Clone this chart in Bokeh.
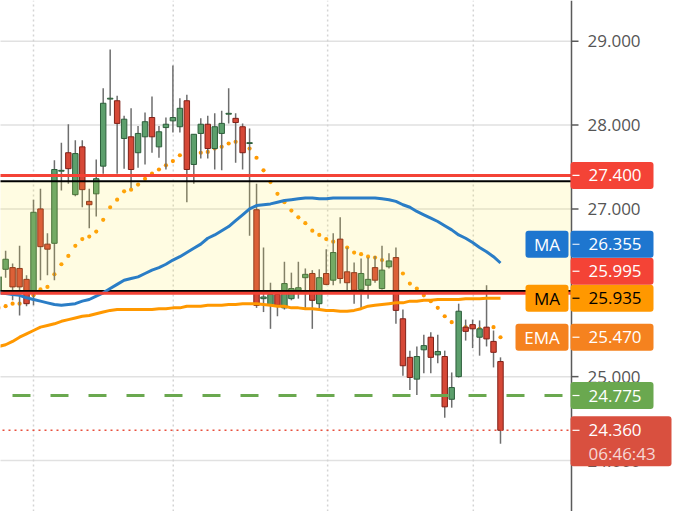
from bokeh.plotting import figure
from bokeh.models import Range1d, ColumnDataSource
from bokeh.core.properties import value
from bokeh.embed import file_html
from bokeh.resources import INLINE

# ---------------- data ----------------
opens = [26.02, 26.28, 26.30, 26.29, 26.16, 26.02, 27.00, 26.58, 26.59, 27.45,
         27.67, 27.17, 27.74, 27.09, 27.18, 27.51, 28.31, 28.29, 27.84, 27.86,
         27.67, 27.86, 28.09, 27.74, 27.97, 28.05, 27.98, 28.29, 27.53, 27.90,
         28.01, 27.72, 27.90, 28.13, 28.08, 27.98, 27.78, 26.99, 25.93, 25.86,
         25.98, 25.82, 25.93, 26.03, 26.18, 26.23, 25.87, 26.23, 26.15, 26.64,
         26.25, 26.24, 26.04, 26.09, 26.30, 26.05, 26.31, 26.42, 25.69, 25.23,
         24.97, 25.32, 25.47, 25.26, 25.24, 24.73, 25.00, 25.59, 25.62, 25.47,
         25.59, 25.42, 25.18]
highs = [26.25, 26.50, 26.35, 26.56, 26.21, 27.11, 27.24, 26.71, 27.58, 27.79,
         28.01, 27.82, 27.82, 27.24, 27.59, 28.44, 28.90, 28.35, 28.11, 28.20,
         27.99, 28.15, 28.34, 27.99, 28.09, 28.71, 28.32, 28.36, 27.89, 28.08,
         28.11, 28.14, 28.17, 28.44, 28.14, 28.02, 27.96, 27.30, 26.54, 26.12,
         26.00, 26.37, 26.24, 26.37, 26.29, 26.27, 26.28, 26.52, 26.71, 26.90,
         26.54, 26.36, 26.41, 26.42, 26.44, 26.56, 26.47, 26.54, 25.80, 25.31,
         25.36, 25.50, 25.53, 25.50, 25.31, 25.05, 25.87, 25.68, 25.68, 25.67,
         26.09, 25.55, 25.23]
lows = [25.95, 26.18, 25.91, 25.73, 25.84, 25.85, 26.15, 26.21, 26.15, 27.22,
        27.30, 27.15, 27.02, 26.77, 26.91, 27.42, 28.11, 27.42, 27.48, 27.25,
        27.49, 27.53, 27.67, 27.61, 27.47, 27.91, 27.91, 27.08, 27.30, 27.60,
        27.60, 27.47, 27.46, 28.02, 27.55, 27.47, 26.68, 25.82, 25.77, 25.57,
        25.72, 25.80, 25.91, 25.93, 25.82, 25.57, 25.79, 26.09, 26.09, 26.11,
        26.03, 25.87, 25.81, 25.93, 26.12, 26.04, 26.29, 25.63, 25.01, 24.84,
        24.78, 25.04, 25.04, 25.16, 24.51, 24.63, 24.99, 25.43, 25.34, 25.25,
        25.36, 25.11, 24.20]
closes = [26.19, 26.40, 26.07, 26.07, 25.87, 26.96, 26.55, 26.52, 27.47, 27.46,
          27.48, 27.66, 27.23, 27.05, 27.36, 28.26, 28.32, 28.02, 28.07, 27.47,
          27.90, 28.04, 27.86, 27.92, 28.01, 28.09, 28.20, 27.47, 27.89, 28.01,
          27.72, 27.98, 28.02, 28.14, 28.03, 27.67, 27.79, 25.85, 25.95, 25.98,
          25.85, 26.11, 26.05, 26.06, 26.22, 25.91, 26.18, 26.10, 26.48, 26.17,
          26.12, 26.03, 26.23, 26.16, 26.15, 26.27, 26.38, 25.79, 25.13, 24.99,
          25.24, 25.37, 25.23, 25.30, 24.64, 24.87, 25.78, 25.54, 25.57, 25.57,
          25.45, 25.29, 24.36]
ma_short = [26.00, 25.99, 25.98, 25.97, 25.94, 25.92, 25.90, 25.88, 25.86, 25.85,
            25.86, 25.87, 25.90, 25.92, 25.96, 26.00, 26.05, 26.10, 26.15, 26.17,
            26.19, 26.23, 26.27, 26.30, 26.34, 26.39, 26.43, 26.48, 26.53, 26.58,
            26.65, 26.69, 26.74, 26.79, 26.86, 26.93, 27.00, 27.04, 27.05, 27.06,
            27.08, 27.10, 27.11, 27.12, 27.13, 27.13, 27.12, 27.12, 27.13, 27.13,
            27.13, 27.13, 27.13, 27.13, 27.13, 27.12, 27.11, 27.09, 27.05, 27.02,
            26.97, 26.93, 26.89, 26.85, 26.80, 26.75, 26.69, 26.65, 26.60, 26.54,
            26.49, 26.43, 26.355]
ma_long = [25.36, 25.38, 25.42, 25.47, 25.51, 25.55, 25.59, 25.61, 25.63, 25.66,
           25.68, 25.70, 25.72, 25.73, 25.75, 25.77, 25.79, 25.80, 25.80, 25.80,
           25.80, 25.80, 25.80, 25.81, 25.81, 25.82, 25.82, 25.84, 25.84, 25.84,
           25.85, 25.85, 25.85, 25.86, 25.86, 25.87, 25.87, 25.87, 25.86, 25.85,
           25.84, 25.84, 25.82, 25.82, 25.81, 25.81, 25.80, 25.79, 25.79, 25.78,
           25.78, 25.79, 25.81, 25.84, 25.85, 25.86, 25.87, 25.88, 25.88, 25.90,
           25.90, 25.91, 25.91, 25.92, 25.92, 25.92, 25.92, 25.93, 25.93, 25.93,
           25.935, 25.935, 25.935]
ema_line = [25.82, 25.84, 25.87, 25.87, 25.91, 25.97, 26.04, 26.07, 26.22, 26.34,
            26.44, 26.56, 26.64, 26.67, 26.73, 26.87, 27.02, 27.11, 27.21, 27.23,
            27.29, 27.36, 27.42, 27.47, 27.52, 27.57, 27.64, 27.65, 27.66, 27.67,
            27.68, 27.72, 27.74, 27.78, 27.80, 27.79, 27.72, 27.61, 27.46, 27.32,
            27.18, 27.08, 26.98, 26.90, 26.83, 26.74, 26.69, 26.64, 26.61, 26.58,
            26.54, 26.48, 26.46, 26.43, 26.42, 26.39, 26.35, 26.30, 26.23, 26.11,
            26.05, 25.97, 25.90, 25.82, 25.72, 25.65, 25.61, 25.59, 25.59, 25.57,
            25.57, 25.59, 25.47]

price_ticks = [24, 25, 26, 27, 28, 29]
session_marks = [5, 25.05, 47.2, 68.1]
zone_top = 27.33
zone_bottom = 26.02
resistance_levels = [27.40, 25.995]
support_level = 24.775
last_price = 24.36
countdown = "06:46:43"

bars = list(range(len(closes)))

# ---------------- layout ----------------
W, H = 676, 511
BAR_PX = 6.97
T0 = 0.265
T1 = T0 + W / BAR_PX
PX_Y = 83.86
Y_TOP = 29 + 40.7 / PX_Y
Y_BOT = Y_TOP - H / PX_Y
AXIS_PX = 571


def xat(px):
    return T0 + px / BAR_PX


def ypx(v):
    return (Y_TOP - v) * PX_Y


def yval(px):
    return Y_TOP - px / PX_Y


FONT = value("Open Sans")
FS = "17px"

p = figure(width=W, height=H, x_range=Range1d(T0, T1), y_range=Range1d(Y_BOT, Y_TOP),
           output_backend="svg", toolbar_location=None, min_border=0)
p.axis.visible = False
p.xgrid.visible = False
p.ygrid.visible = False
p.outline_line_color = None
p.background_fill_color = "white"
p.border_fill_color = "white"

x_axis = xat(AXIS_PX)
x_left = xat(-10)
nt = len(price_ticks)
ns = len(session_marks)

# grid
p.segment(x0=[x_left] * nt, y0=price_ticks, x1=[x_axis] * nt, y1=price_ticks,
          line_color="#e1e1e1", line_width=1.5)
p.segment(x0=session_marks, y0=[Y_BOT] * ns, x1=session_marks, y1=[Y_TOP] * ns,
          line_color="#d4d4d4", line_width=1.5, line_dash="2 3")

# EMA dots (under candles)
p.scatter(bars, ema_line, size=4.2, color="#ff9800", line_color=None)

# candles
inc = [c >= o for o, c in zip(opens, closes)]
src = ColumnDataSource(dict(
    x=bars,
    top=[max(o, c) for o, c in zip(opens, closes)],
    bottom=[min(o, c) for o, c in zip(opens, closes)],
    high=highs, low=lows,
    fill=["#5c9f6c" if u else "#d64837" for u in inc],
    edge=["#2d5e3b" if u else "#7f2118" for u in inc],
))
p.segment(x0="x", y0="low", x1="x", y1="high", source=src, line_color="#6e6e6e", line_width=1.5)
p.vbar(x="x", top="top", bottom="bottom", width=0.78, source=src,
       fill_color="fill", line_color="edge", line_width=1)

# zone rectangle over candles
p.quad(left=[x_left], right=[x_axis], top=[zone_top], bottom=[zone_bottom],
       fill_color="#ffeb3b", fill_alpha=0.15, line_color=None)
p.segment(x0=[x_left, x_left], y0=[zone_top, zone_bottom], x1=[x_axis, x_axis],
          y1=[zone_top, zone_bottom], line_color="black", line_width=2)

# moving averages
p.line(bars, ma_long, line_color="#ff9800", line_width=3)
p.line(bars, ma_short, line_color="#2a7dc6", line_width=3)

# levels
p.segment(x0=[x_left] * 2, y0=resistance_levels, x1=[x_axis] * 2, y1=resistance_levels,
          line_color="#f44336", line_width=3)
p.segment(x0=[x_left], y0=[support_level], x1=[x_axis], y1=[support_level],
          line_color="#6aa84f", line_width=3, line_dash="18 20", line_dash_offset=16)
p.segment(x0=[x_left], y0=[last_price], x1=[x_axis], y1=[last_price],
          line_color="#e8503e", line_width=1.5, line_dash="2 4")

# price axis
p.segment(x0=[x_axis], y0=[Y_BOT], x1=[x_axis], y1=[Y_TOP], line_color="#5a5a5a", line_width=1.5)
p.segment(x0=[x_axis] * nt, y0=price_ticks, x1=[xat(AXIS_PX + 7)] * nt, y1=price_ticks,
          line_color="#5a5a5a", line_width=1.5)
p.text(x=[xat(AXIS_PX + 16)] * nt, y=price_ticks, text=["%.3f" % v for v in price_ticks],
       text_font=FONT, text_font_size=FS, text_color="#555555",
       text_align="left", text_baseline="middle")

# value labels on the price axis (stacked so they do not overlap)
BOX_H = 27.0
entries = [
    (resistance_levels[0], "#f44336", "white", None, 0),
    (ma_short[-1], "#1e76cf", "white", "MA", 525),
    (resistance_levels[1], "#f44336", "white", None, 0),
    (ma_long[-1], "#ff9800", "black", "MA", 525),
    (ema_line[-1], "#f5821f", "white", "EMA", 515),
    (support_level, "#6aa84f", "white", None, 0),
]

price_top = ypx(last_price) - 14
price_bot = price_top + 50
box_l, box_r = xat(570), xat(653)
text_x = xat(588)
dash_x0, dash_x1 = xat(572), xat(579)

boxes = dict(left=[box_l], right=[xat(671)], top=[yval(price_top)], bottom=[yval(price_bot)],
             fill=["#d9503f"])
texts = dict(x=[text_x], y=[last_price], text=["%.3f" % last_price], color=["white"])
dashes = dict(x0=[dash_x0], x1=[dash_x1], y=[last_price], color=["white"])
titles_box = dict(left=[], right=[], top=[], bottom=[], fill=[])
titles_txt = dict(x=[], y=[], text=[], color=[])

prev_top = price_top
for v, fill, tc, title, tl in sorted(entries, key=lambda e: e[0]):
    c = ypx(v)
    if c + BOX_H / 2 > prev_top:
        c = prev_top - BOX_H / 2
    prev_top = c - BOX_H / 2
    boxes["left"].append(box_l)
    boxes["right"].append(box_r)
    boxes["top"].append(yval(c - BOX_H / 2))
    boxes["bottom"].append(yval(c + BOX_H / 2))
    boxes["fill"].append(fill)
    texts["x"].append(text_x)
    texts["y"].append(yval(c))
    texts["text"].append("%.3f" % v)
    texts["color"].append(tc)
    dashes["x0"].append(dash_x0)
    dashes["x1"].append(dash_x1)
    dashes["y"].append(yval(c))
    dashes["color"].append(tc)
    if title:
        titles_box["left"].append(xat(tl))
        titles_box["right"].append(xat(568))
        titles_box["top"].append(yval(c - BOX_H / 2))
        titles_box["bottom"].append(yval(c + BOX_H / 2))
        titles_box["fill"].append(fill)
        titles_txt["x"].append((xat(tl) + xat(568)) / 2)
        titles_txt["y"].append(yval(c))
        titles_txt["text"].append(title)
        titles_txt["color"].append(tc)

p.quad(left="left", right="right", top="top", bottom="bottom", fill_color="fill",
       line_color=None, border_radius=3, source=ColumnDataSource(boxes))
p.quad(left="left", right="right", top="top", bottom="bottom", fill_color="fill",
       line_color=None, border_radius=3, source=ColumnDataSource(titles_box))
p.segment(x0="x0", y0="y", x1="x1", y1="y", line_color="color", line_width=1.2,
          source=ColumnDataSource(dashes))
p.text(x="x", y="y", text="text", text_color="color", source=ColumnDataSource(texts),
       text_font=FONT, text_font_size=FS, text_align="left", text_baseline="middle")
p.text(x="x", y="y", text="text", text_color="color", source=ColumnDataSource(titles_txt),
       text_font=FONT, text_font_size=FS, text_align="center", text_baseline="middle")
p.text(x=[text_x], y=[yval(price_top + 37)], text=[countdown], text_color="white",
       text_alpha=0.78, text_font=FONT, text_font_size=FS, text_align="left",
       text_baseline="middle")

open("out.html", "w").write(file_html(p, INLINE, title="chart"))
